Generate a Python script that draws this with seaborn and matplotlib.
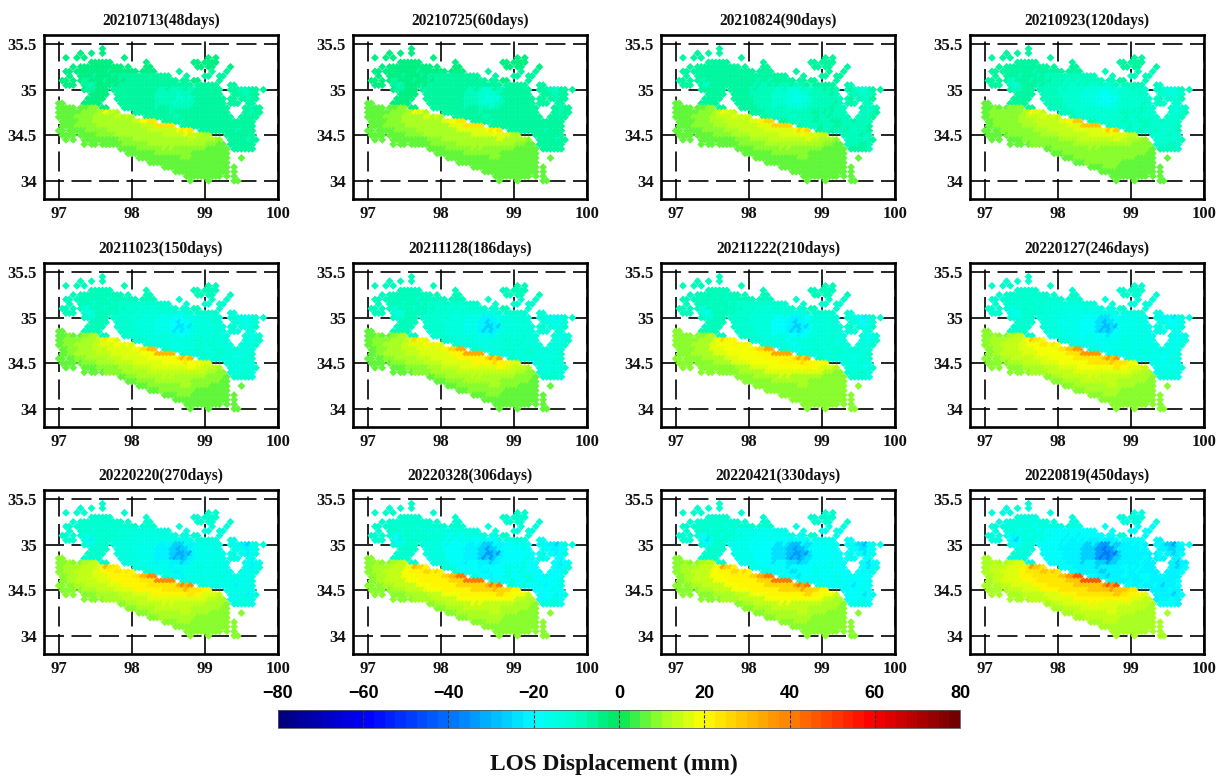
import numpy as np
import pandas as pd
import matplotlib
matplotlib.use("Agg")
import matplotlib.pyplot as plt
from matplotlib.colors import LinearSegmentedColormap, Normalize
from matplotlib.cm import ScalarMappable
import seaborn as sns

# ---------- data ----------
dates = ["20210713", "20210725", "20210824", "20210923",
         "20211023", "20211128", "20211222", "20220127",
         "20220220", "20220328", "20220421", "20220819"]
days = [48, 60, 90, 120, 150, 186, 210, 246, 270, 306, 330, 450]
# how strong each epoch looks compared with the last one, for each block
north_strength = [0.30, 0.33, 0.40, 0.47, 0.58, 0.64, 0.68, 0.72, 0.78, 0.82, 0.87, 1.00]
south_strength = [0.50, 0.52, 0.56, 0.60, 0.68, 0.72, 0.76, 0.80, 0.84, 0.88, 0.92, 1.00]

# LOS class (mm) of the last epoch, on a 0.05 degree sheet.
class_mm = {"a": -10, "b": -14, "c": -18, "d": -22, "e": -27, "f": -33, "g": -40,
            "1": 10, "2": 13, "3": 16, "4": 20, "5": 24, "6": 29, "7": 36, "8": 46}
lon_first = 97.0
lat_first = 35.45
sheet = [
    ".......... ..b....... .......... .......... .......... .......",
    "......b..b ..b....... .......... .......... .......... .......",
    "..b..b.b.. ........b. .......... .......... .b.b...... .......",
    ".........b bbbbb..... ....b..... .......bb. bbbb...... .......",
    "....b.bbbb bbbbbbbb.b ....bb.... ........bb .bb....b.. .......",
    "..bb.bbbbb bbbbcbbbbb bb.bbbb... ...c...... ..c...c... .......",
    "...b..bbbb cbbbbcbccc cccccccccc c....c.... cc..cc.... .......",
    ".bb.b.bcdb bbbcbbbcbc cccdccdccc ccc.cc.bb. ....c..... .......",
    "..bbb..cde cbbbbcbccc ccdcddcdcd ddcdddc.cc cccc...cd. .......",
    ".......bcc cbbb.ccccc cdcdddddee defffdeedd dcdcd..dcd eefdc.c",
    ".........b bbbb..cccc cddddddeee effgffeddd dddcd...dd deedd..",
    "........bb bbb...cccc ccdddddeee effggfgedd dddddd.dc. ddedc..",
    "11.....bbb bb.....ccc ccdddddeee efgfgfeedd ddddcd.dcd ..dd...",
    "11121.1223 3.bb....cc cccddddedd deeefeeddd dddcddd... .ddedd.",
    "1122222333 3457665... .ccccddddd deddddddcc dcdcddd... .ddedc.",
    "1122233333 4455556656 5...ccdddd ddeedddddc ddcddddd.. ddddc..",
    ".112223333 4444555555 5667788..c cdddedddcc dddcccdddc dddd...",
    ".112233333 3444455555 5556666888 88..cddddd cdddccdddd dddc...",
    "11.1122233 3333444455 5555566666 6667878..c cddcdddcde dddc...",
    ".1111.1222 2333334444 4555555556 6666676666 55....dddd dcdd...",
    "..1.1..111 1222222333 3444445555 5555556655 44443..ddd ddedc..",
    ".......1.1 1.12222233 3333344444 4444444444 433322.ddd dccd...",
    ".......... .......112 2233333334 3433333333 3222221.cc cccd...",
    ".......... .........1 1122222333 3333333222 2222211... .......",
    ".......... .......... ..11122222 2222333222 2211111... 1......",
    ".......... .......... .....11122 2222222211 1111111... .......",
    ".......... .......... .........1 1112222111 1111111.1. .......",
    ".......... .......... .......... ..11111111 1111111.1. .......",
    ".......... .......... .......... .....11111 11111.1.1. .......",
    ".......... .......... .......... ......1... .1......11 .......",
]

x_ticks = [97, 98, 99, 100]
y_ticks = [34, 34.5, 35, 35.5]
y_tick_labels = ["34", "34.5", "35", "35.5"]
cbar_ticks = [-80, -60, -40, -20, 0, 20, 40, 60, 80]
cbar_title = "LOS Displacement (mm)"

# ---------- build table ----------
rows = []
for r, line in enumerate(sheet):
    for c, ch in enumerate(line.replace(" ", "")):
        if ch != ".":
            rows.append((lon_first + 0.05 * c, lat_first - 0.05 * r, class_mm[ch]))
base = pd.DataFrame(rows, columns=["lon", "lat", "los"])

# ---------- style ----------
sns.set_theme(style="white")
SERIF = "Liberation Serif"
W, H = 1222, 776
cmap = LinearSegmentedColormap.from_list(
    "los",
    [(0.0, (0, 0, 0.50)), (0.125, (0, 0, 1)), (0.25, (0, 0.45, 1)), (0.375, (0, 1, 1)),
     (0.4375, (0, 1, 0.78)), (0.5, (0, 0.90, 0.35)), (0.5625, (0.60, 1, 0.15)),
     (0.625, (1, 1, 0)), (0.75, (1, 0.52, 0)), (0.875, (1, 0, 0)), (1.0, (0.45, 0, 0))],
    N=64)
norm = Normalize(-80, 80)

fig = plt.figure(figsize=(W / 100, H / 100), dpi=100, facecolor="white")
lefts = [44, 353, 661, 970]
tops = [35, 263, 490]
pw, ph = 234, 164

for k, (d, n, fn, fs) in enumerate(zip(dates, days, north_strength, south_strength)):
    l, t = lefts[k % 4], tops[k // 4]
    ax = fig.add_axes([l / W, 1 - (t + ph) / H, pw / W, ph / H])
    frame = base.assign(value=np.where(base["los"] < 0, base["los"] * fn, base["los"] * fs))
    sns.scatterplot(data=frame, x="lon", y="lat", hue="value", palette=cmap, hue_norm=norm,
                    marker="D", s=16, linewidth=0, legend=False, ax=ax, zorder=3)
    ax.set_xlim(96.8, 100)
    ax.set_ylim(33.8, 35.6)
    ax.set_xticks(x_ticks)
    ax.set_yticks(y_ticks)
    ax.set_yticklabels(y_tick_labels)
    ax.set_xlabel("")
    ax.set_ylabel("")
    ax.grid(True, color="black", lw=1.2, ls=(0, (12, 4.5)), zorder=1)
    ax.set_axisbelow(True)
    ax.tick_params(length=0, pad=5, labelsize=12)
    for lab in ax.get_xticklabels() + ax.get_yticklabels():
        lab.set_fontfamily(SERIF)
        lab.set_fontweight("bold")
        lab.set_color("#111111")
    for s in ax.spines.values():
        s.set_visible(True)
        s.set_color("black")
        s.set_linewidth(1.9)
    ax.set_title(f"{d}({n}days)", fontfamily=SERIF, fontweight="bold",
                 fontsize=11.2, pad=7.5, color="#111111")

cax = fig.add_axes([278 / W, 1 - 728 / H, 682 / W, 18 / H])
cb = fig.colorbar(ScalarMappable(norm=norm, cmap=cmap), cax=cax, orientation="horizontal",
                  ticks=cbar_ticks, drawedges=False)
cb.outline.set_linewidth(0.6)
cb.outline.set_edgecolor("#555555")
cax.xaxis.set_ticks_position("top")
cax.tick_params(length=0, pad=6, labelsize=13)
for lab in cax.get_xticklabels():
    lab.set_fontfamily("Liberation Sans")
    lab.set_fontweight("bold")
    lab.set_color("black")
for v in cbar_ticks[1:-1]:
    cax.axvline(v, color="#333333", lw=0.8, ls=(0, (3, 1.5)))
fig.text(614 / W, 1 - 764 / H, cbar_title, ha="center", va="center", fontfamily=SERIF,
         fontweight="bold", fontsize=16.8, color="#111111")

fig.savefig("out.png", dpi=100)
